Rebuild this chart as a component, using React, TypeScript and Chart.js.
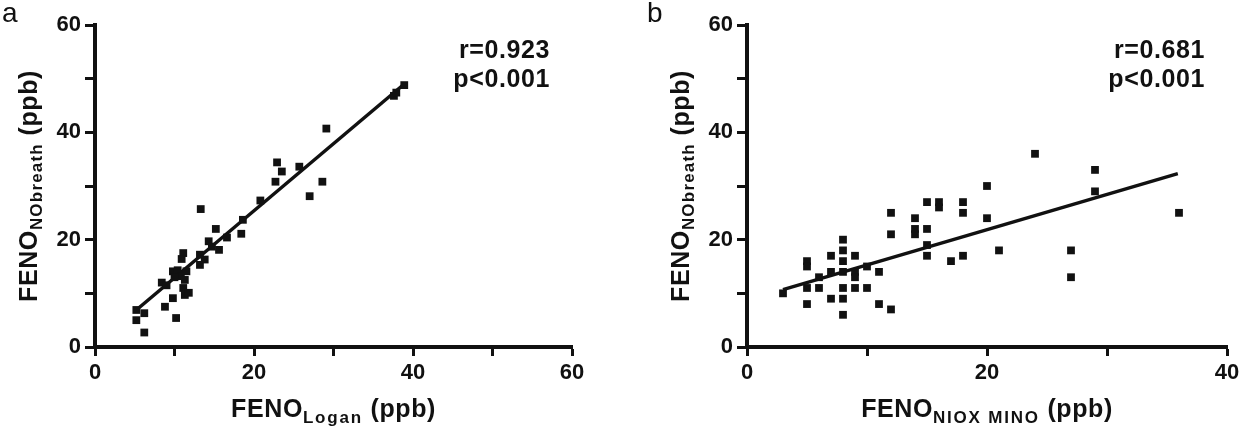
import React, { useEffect, useRef } from 'react';
import { Chart, registerables } from 'chart.js';

Chart.register(...registerables);

// ---- Panel a: FENO Logan vs FENO NObreath ----
const loganX = [5.2, 5.2, 6.2, 6.2, 8.4, 8.8, 9.8, 10.2, 9.8, 10.4, 10.8, 11.1, 10.9, 11.3, 11.1, 11.3, 11.8, 11.5, 9.0, 10.0,
  13.3, 13.2, 13.2, 13.8, 14.3, 15.2, 15.6, 14.7, 16.6, 18.4, 18.6, 20.8, 22.7, 22.9, 23.5, 25.7, 27.0, 28.6, 29.1, 37.6, 37.9, 38.9];
const loganY = [6.9, 5.0, 6.3, 2.7, 12.0, 7.5, 9.1, 5.4, 14.1, 14.3, 13.2, 17.5, 16.4, 12.5, 11.0, 9.7, 10.1, 14.1, 11.5, 13.0,
  25.7, 15.3, 17.2, 16.3, 19.7, 22.0, 18.1, 18.7, 20.4, 21.1, 23.7, 27.3, 30.8, 34.4, 32.7, 33.6, 28.1, 30.8, 40.7, 46.8, 47.4, 48.8];
const fitAX = [5.2, 38.9];
const fitAY = [6.9, 49.0];
const statsA = ['r=0.923', 'p<0.001'];

// ---- Panel b: FENO NIOX MINO vs FENO NObreath ----
const minoX = [3, 5, 5, 5, 5, 6, 6, 7, 7, 7, 8, 8, 8, 8, 8, 8, 8, 9, 9, 9, 9, 10, 10, 11, 11, 12, 12, 12,
  14, 14, 14, 15, 15, 15, 15, 16, 16, 17, 18, 18, 18, 20, 20, 21, 24, 27, 27, 29, 29, 36];
const minoY = [10, 16, 15, 11, 8, 13, 11, 17, 14, 9, 20, 18, 16, 14, 11, 9, 6, 17, 14, 13, 11, 15, 11, 14, 8, 25, 21, 7,
  24, 22, 21, 27, 22, 19, 17, 27, 26, 16, 27, 25, 17, 30, 24, 18, 36, 18, 13, 33, 29, 25];
const fitBX = [3.0, 35.9];
const fitBY = [10.7, 32.3];
const statsB = ['r=0.681', 'p<0.001'];

// ---- axes ----
const yTickLabels = [0, 20, 40, 60];
const xTickLabelsA = [0, 20, 40, 60];
const xTickLabelsB = [0, 20, 40];

const FAMILY = '"Liberation Sans", Arial, Helvetica, sans-serif';
const INK = '#111';

type Part = { text: string; size: number; dy: number; ls: number };

function drawParts(ctx: CanvasRenderingContext2D, parts: Part[], cx: number, baseline: number) {
  const widths = parts.map((p) => {
    ctx.font = `bold ${p.size}px ${FAMILY}`;
    (ctx as any).letterSpacing = `${p.ls}px`;
    return ctx.measureText(p.text).width;
  });
  const total = widths.reduce((a, b) => a + b, 0);
  let x = cx - total / 2;
  ctx.textAlign = 'left';
  ctx.textBaseline = 'alphabetic';
  parts.forEach((p, i) => {
    ctx.font = `bold ${p.size}px ${FAMILY}`;
    (ctx as any).letterSpacing = `${p.ls}px`;
    ctx.fillText(p.text, x, baseline + p.dy);
    x += widths[i];
  });
  (ctx as any).letterSpacing = '0px';
}

const textPlugin = {
  id: 'panelText',
  afterDraw(chart: any, _args: any, opts: any) {
    const ctx: CanvasRenderingContext2D = chart.ctx;
    const area = chart.chartArea;
    ctx.save();
    ctx.fillStyle = INK;
    // panel letter
    ctx.font = `28px ${FAMILY}`;
    ctx.textAlign = 'left';
    ctx.textBaseline = 'alphabetic';
    ctx.fillText(opts.letter, opts.letterX, 22);
    // stats
    ctx.font = `bold 25px ${FAMILY}`;
    (ctx as any).letterSpacing = '0.6px';
    ctx.textAlign = 'right';
    ctx.fillText(opts.stats[0], area.right - 22, 58);
    ctx.fillText(opts.stats[1], area.right - 22, 87);
    (ctx as any).letterSpacing = '0px';
    // x title
    drawParts(
      ctx,
      [
        { text: 'FENO', size: 25, dy: 0, ls: 0.6 },
        { text: opts.xSub, size: 17, dy: 6, ls: 1.8 },
        { text: ' (ppb)', size: 25, dy: 0, ls: 0.6 },
      ],
      (area.left + area.right) / 2,
      area.bottom + 70
    );
    // y title
    ctx.translate(area.left - 58, (area.top + area.bottom) / 2);
    ctx.rotate(-Math.PI / 2);
    drawParts(
      ctx,
      [
        { text: 'FENO', size: 25, dy: 0, ls: 0.6 },
        { text: 'NObreath', size: 17, dy: 5, ls: 1.2 },
        { text: ' (ppb)', size: 25, dy: 0, ls: 0.6 },
      ],
      0,
      0
    );
    ctx.restore();
  },
};

function makeConfig(p: {
  xs: number[]; ys: number[]; fx: number[]; fy: number[]; xMax: number; xLabels: number[];
  leftW: number; padRight: number; xSub: string; letter: string; letterX: number; stats: string[];
}) {
  const tickFont = { family: FAMILY, size: 22, weight: 'bold' as const };
  return {
    type: 'scatter' as const,
    data: {
      datasets: [
        {
          data: p.xs.map((x, i) => ({ x, y: p.ys[i] })),
          pointStyle: 'rect',
          pointRadius: 5.5,
          pointBackgroundColor: INK,
          pointBorderWidth: 0,
          showLine: false,
        },
        {
          data: p.fx.map((x, i) => ({ x, y: p.fy[i] })),
          showLine: true,
          borderColor: INK,
          borderWidth: 3.5,
          pointRadius: 0,
          fill: false,
        },
      ],
    },
    options: {
      responsive: false,
      animation: false,
      devicePixelRatio: 1,
      layout: { padding: { left: 0, right: p.padRight, top: 25, bottom: 0 } },
      plugins: {
        legend: { display: false },
        tooltip: { enabled: false },
        panelText: { letter: p.letter, letterX: p.letterX, stats: p.stats, xSub: p.xSub },
      },
      scales: {
        x: {
          type: 'linear',
          min: 0,
          max: p.xMax,
          afterFit(s: any) { s.height = 83; },
          ticks: {
            stepSize: 10,
            padding: 4,
            color: INK,
            font: tickFont,
            maxRotation: 0,
            autoSkip: false,
            callback: (v: any) => (p.xLabels.includes(Number(v)) ? String(v) : ''),
          },
          grid: { drawOnChartArea: false, drawTicks: true, tickLength: 9, tickWidth: 3, tickColor: INK },
          border: { color: INK, width: 4 },
        },
        y: {
          type: 'linear',
          min: 0,
          max: 60,
          afterFit(s: any) { s.width = p.leftW; },
          ticks: {
            stepSize: 10,
            padding: 4,
            color: INK,
            font: tickFont,
            autoSkip: false,
            callback: (v: any) => (yTickLabels.includes(Number(v)) ? String(v) : ''),
          },
          grid: { drawOnChartArea: false, drawTicks: true, tickLength: 10, tickWidth: 3, tickColor: INK },
          border: { color: INK, width: 4 },
        },
      },
    },
    plugins: [textPlugin],
  };
}

function Panel(props: { cfg: any; left: number; width: number }) {
  const ref = useRef<HTMLCanvasElement | null>(null);
  useEffect(() => {
    if (!ref.current) return;
    const chart = new Chart(ref.current, props.cfg);
    return () => chart.destroy();
  }, []);
  return (
    <canvas
      ref={ref}
      width={props.width}
      height={430}
      style={{ position: 'absolute', left: props.left, top: 0, width: props.width, height: 430, display: 'block' }}
    />
  );
}

export default function App() {
  const cfgA = makeConfig({
    xs: loganX, ys: loganY, fx: fitAX, fy: fitAY, xMax: 60, xLabels: xTickLabelsA,
    leftW: 95, padRight: 68, xSub: 'Logan', letter: 'a', letterX: 2, stats: statsA,
  });
  const cfgB = makeConfig({
    xs: minoX, ys: minoY, fx: fitBX, fy: fitBY, xMax: 40, xLabels: xTickLabelsB,
    leftW: 107, padRight: 18, xSub: 'NIOX MINO', letter: 'b', letterX: 7, stats: statsB,
  });
  return (
    <div style={{ position: 'fixed', left: 0, top: 0, width: 1245, height: 430, background: '#fff', overflow: 'hidden' }}>
      <Panel cfg={cfgA} left={0} width={640} />
      <Panel cfg={cfgB} left={640} width={605} />
    </div>
  );
}
